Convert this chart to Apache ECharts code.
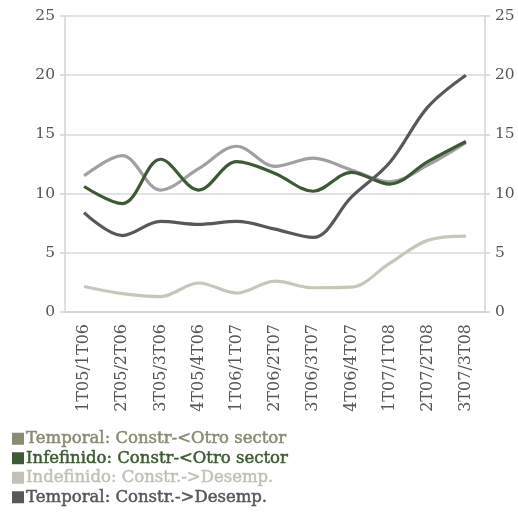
<!DOCTYPE html>
<html>
<head>
<meta charset="utf-8">
<script src="https://cdn.jsdelivr.net/npm/echarts@6/dist/echarts.min.js"></script>
<style>
  html, body { margin: 0; padding: 0; background: #fff; }
  #chart { width: 518px; height: 523px; }
</style>
</head>
<body>
<div id="chart"></div>
<script>
var categories = ["1T05/1T06", "2T05/2T06", "3T05/3T06", "4T05/4T06", "1T06/1T07", "2T06/2T07",
  "3T06/3T07", "4T06/4T07", "1T07/1T08", "2T07/2T08", "3T07/3T08"];
var temporalOtro = [11.5, 13.2, 10.3, 12.1, 14.0, 12.3, 13.0, 12.0, 11.0, 12.4, 14.3];
var indefinidoOtro = [10.6, 9.15, 12.9, 10.3, 12.7, 11.7, 10.2, 11.8, 10.8, 12.7, 14.4];
var indefinidoDesemp = [2.15, 1.55, 1.3, 2.45, 1.6, 2.6, 2.05, 2.1, 4.1, 6.05, 6.4];
var temporalDesemp = [8.4, 6.45, 7.65, 7.4, 7.65, 7.0, 6.3, 9.7, 12.6, 17.3, 20.0];
var yTicks = [0, 5, 10, 15, 20, 25];

(function () {
  var myChart = echarts.init(document.getElementById("chart"));
  var font = "DejaVu Serif";

  var names = [
    "Temporal: Constr-<Otro sector",
    "Infefinido: Constr-<Otro sector",
    "Indefinido: Constr.->Desemp.",
    "Temporal: Constr.->Desemp."
  ];
  var legendColors = ["#8b8a73", "#3e5a35", "#c3c1b5", "#58585a"];
  var lineColors = ["#a0a0a3", "#3e5a35", "#c9c6b9", "#58585a"];
  var values = [temporalOtro, indefinidoOtro, indefinidoDesemp, temporalDesemp];

  var yAxisBase = function (pos) {
    return {
      type: "value",
      position: pos,
      min: yTicks[0],
      max: yTicks[yTicks.length - 1],
      interval: 5,
      axisLine: { show: true, lineStyle: { color: "#d4d4d4", width: 1.5 } },
      axisTick: { show: true, length: 5, lineStyle: { color: "#d4d4d4", width: 1.5 } },
      axisLabel: { color: "#555", fontFamily: font, fontSize: 15.5, margin: 10 },
      splitLine: { show: pos === "left", lineStyle: { color: "#d9d9d9", width: 1.5 } }
    };
  };

  var series = [];
  for (var i = 0; i < names.length; i++) {
    series.push({
      name: names[i],
      type: "line",
      smooth: 0.35,
      symbol: "none",
      data: values[i],
      itemStyle: { color: legendColors[i] },
      lineStyle: { color: lineColors[i], width: 3.2 },
      z: i === 3 ? 5 : 2 + i
    });
  }

  myChart.setOption({
    animation: false,
    grid: { left: 65, right: 33, top: 16, bottom: 211 },
    legend: {
      orient: "vertical",
      left: 7,
      top: 425,
      itemGap: 2,
      itemWidth: 12,
      itemHeight: 12,
      icon: "rect",
      data: names.map(function (n, i) {
        return {
          name: n,
          textStyle: { color: legendColors[i], textBorderColor: legendColors[i], textBorderWidth: 0.5 }
        };
      }),
      textStyle: { fontFamily: font, fontSize: 16.5, padding: [0, 0, 0, -3] }
    },
    xAxis: {
      type: "category",
      data: categories,
      boundaryGap: true,
      axisLine: { show: true, lineStyle: { color: "#d4d4d4", width: 1.5 } },
      axisTick: { show: false },
      axisLabel: { rotate: 90, color: "#555", fontFamily: font, fontSize: 16, margin: 12, interval: 0 }
    },
    yAxis: [yAxisBase("left"), yAxisBase("right")],
    series: series
  });
  window.addEventListener("resize", function () {
    myChart.resize();
  });
})();
</script>
</body>
</html>
